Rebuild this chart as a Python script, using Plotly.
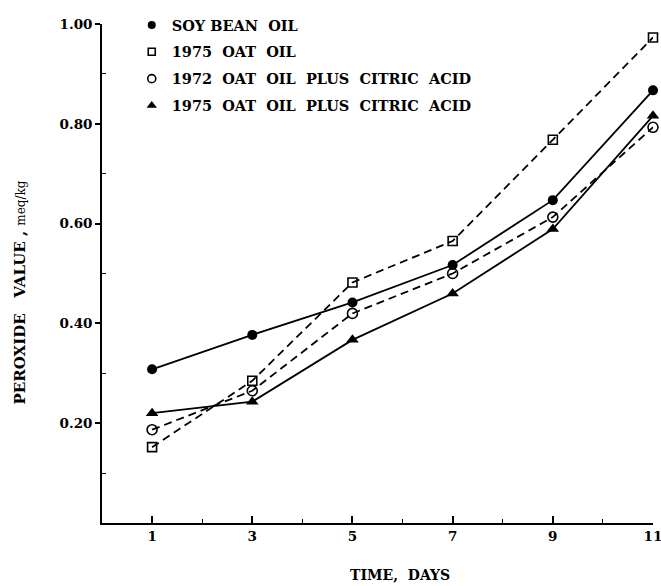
import plotly.graph_objects as go

days = [1, 3, 5, 7, 9, 11]
soybean = [0.308, 0.377, 0.442, 0.517, 0.647, 0.867]
oat1975 = [0.152, 0.285, 0.482, 0.565, 0.768, 0.973]
oat1972_citric = [0.187, 0.265, 0.420, 0.500, 0.613, 0.793]
oat1975_citric = [0.220, 0.243, 0.367, 0.460, 0.589, 0.816]

names = ["SOY BEAN  OIL", "1975  OAT  OIL", "1972  OAT  OIL  PLUS  CITRIC  ACID",
         "1975  OAT  OIL  PLUS  CITRIC  ACID"]

y_tickvals = [0.2, 0.4, 0.6, 0.8, 1.0]
y_ticktext = ["0.20", "0.40", "0.60", "0.80", "1.00"]
y_minor = [0.1, 0.3, 0.5, 0.7, 0.9]
x_tickvals = [1, 3, 5, 7, 9, 11]
x_minor = [2, 4, 6, 8, 10]

FONT = "DejaVu Serif"

series = [
    (soybean, names[0], dict(symbol="circle", size=10, color="black"), "solid"),
    (oat1975, names[1], dict(symbol="square-open", size=9, color="black", line=dict(width=1.6)), "8px,5px"),
    (oat1972_citric, names[2], dict(symbol="circle-open", size=10, color="black", line=dict(width=1.6)), "8px,5px"),
    (oat1975_citric, names[3], dict(symbol="triangle-up", size=11, color="black"), "solid"),
]

fig = go.Figure()
for i, (vals, nm, mk, dash) in enumerate(series):
    fig.add_trace(go.Scatter(
        x=days, y=vals, mode="lines+markers", name=nm, showlegend=False,
        line=dict(color="black", width=1.8, dash=dash), marker=mk,
        legendgroup=f"g{i}", cliponaxis=False))
for i, (vals, nm, mk, dash) in enumerate(series):
    lm = dict(mk)
    lm["size"] = mk["size"] - 2
    fig.add_trace(go.Scatter(
        x=[None], y=[None], mode="markers", name=nm, showlegend=True,
        marker=lm, legendgroup=f"g{i}"))

fig.update_layout(
    width=661, height=586,
    margin=dict(l=102, r=8, t=24, b=63, autoexpand=False),
    paper_bgcolor="white", plot_bgcolor="white",
    font=dict(family=FONT, size=13, color="black"),
    showlegend=True,
    legend=dict(x=0.054, y=1.03, xanchor="left", yanchor="top",
                bgcolor="rgba(0,0,0,0)", tracegroupgap=5,
                font=dict(family=FONT, size=14.5, color="black", weight="bold"),
                itemwidth=30),
    xaxis=dict(range=[0, 11], tickvals=x_tickvals, ticks="inside", ticklen=7,
               tickwidth=1.5, tickcolor="black", showline=True, linecolor="black",
               linewidth=1.6, showgrid=False, zeroline=False, automargin=False,
               ticklabeloverflow="allow",
               tickfont=dict(family=FONT, size=13.5, weight="bold"),
               minor=dict(tickvals=x_minor, ticks="inside", ticklen=4,
                          tickwidth=1.2, tickcolor="black")),
    yaxis=dict(range=[0, 1.0], tickvals=y_tickvals, ticktext=y_ticktext,
               ticks="outside", ticklen=5, tickwidth=1.5, tickcolor="black",
               showline=True, linecolor="black", linewidth=1.6, showgrid=False,
               zeroline=False, automargin=False, ticklabeloverflow="allow",
               tickfont=dict(family=FONT, size=13.5, weight="bold"),
               minor=dict(tickvals=y_minor, ticks="inside", ticklen=4,
                          tickwidth=1.2, tickcolor="black")),
    annotations=[
        dict(text="TIME,  DAYS", xref="paper", yref="paper", x=0.541, y=-0.105,
             xanchor="center", yanchor="middle", showarrow=False,
             font=dict(family=FONT, size=14, weight="bold")),
        dict(text="PEROXIDE   VALUE , <span style='font-size:12px;font-weight:normal'>meq/kg</span>",
             xref="paper", yref="paper", x=-0.148, y=0.463, textangle=-90,
             xanchor="center", yanchor="middle", showarrow=False,
             font=dict(family=FONT, size=15, weight="bold")),
    ],
)

fig.write_html("out.html")
